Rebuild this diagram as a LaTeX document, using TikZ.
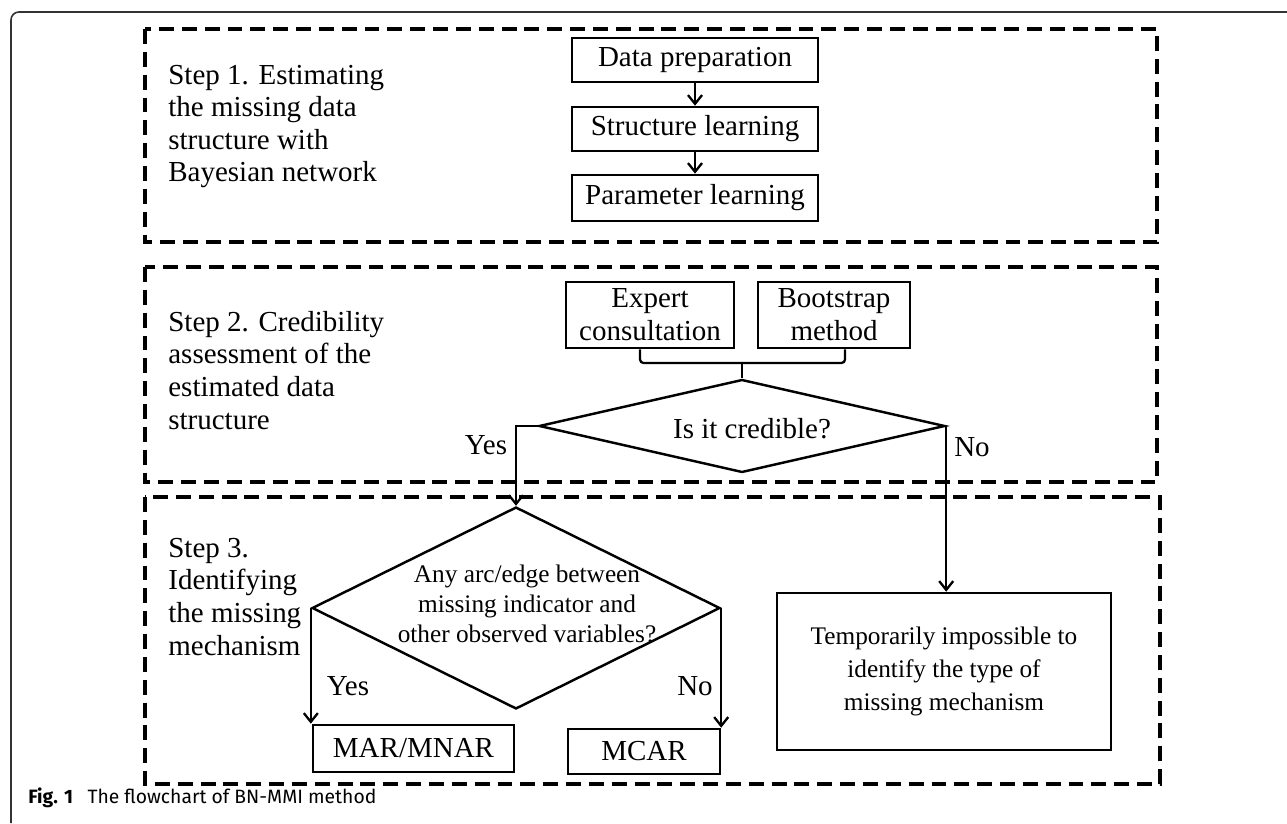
\documentclass[tikz,border=0pt]{standalone}
\usepackage{fontspec}
\setmainfont{Liberation Serif}
\newfontfamily\capfont{Fira Sans}
\usetikzlibrary{shapes.geometric,arrows.meta}

\tikzset{
  stepframe/.style={line width=1.9pt, dash pattern=on 8.5pt off 4.5pt},
  procbox/.style={draw, line width=1.5pt, inner sep=0pt, align=center, font=\fontsize{16.5pt}{18.7pt}\selectfont},
  decide/.style={draw, diamond, line width=1.4pt, inner sep=0pt},
  flow/.style={line width=1.3pt, -{Straight Barb[length=5pt,width=8pt]}},
  steptext/.style={anchor=base west, align=left, inner sep=0pt, font=\fontsize{16.5pt}{18.5pt}\selectfont},
  answer/.style={inner sep=0pt, font=\fontsize{16.5pt}{18.5pt}\selectfont},
}

\begin{document}
\begin{tikzpicture}[x=0.02cm,y=-0.02cm]
  \useasboundingbox (0,0) rectangle (1287,824);
  % outer figure frame
  \draw[line width=0.9pt, black!80, rounded corners=4.5pt] (1287,12) -| (11,823);

  % the three step frames
  \draw[stepframe] (145,29) rectangle (1157,242);
  \draw[stepframe] (145,267) rectangle (1157,482);
  \draw[stepframe] (145,497) rectangle (1160,784);

  % step titles (anchored at the baseline of the last line)
  \node[steptext] (step1) at (168,182) {Step 1. Estimating\\the missing data\\structure with\\Bayesian network};
  \node[steptext] (step2) at (168,429) {Step 2. Credibility\\assessment of the\\estimated data\\structure};
  \node[steptext] (step3) at (168,655) {Step 3.\\Identifying\\the missing\\mechanism};

  % step 1
  \node[procbox, minimum width=4.92cm, minimum height=0.88cm] (prep) at (695,60) {Data preparation};
  \node[procbox, minimum width=4.92cm, minimum height=0.88cm] (struct) at (695,129) {Structure learning};
  \node[procbox, minimum width=4.92cm, minimum height=0.92cm] (param) at (695,198) {Parameter learning};
  \draw[flow] (prep) -- (struct);
  \draw[flow] (struct) -- (param);

  % step 2
  \node[procbox, minimum width=3.36cm, minimum height=1.32cm] (expert) at (650,315) {Expert\\consultation};
  \node[procbox, minimum width=3.04cm, minimum height=1.32cm] (boot) at (834,315) {Bootstrap\\method};
  \node[decide, minimum width=8.12cm, minimum height=1.86cm] (cred) at (742,426) {};
  \node[inner sep=0pt, font=\fontsize{16.5pt}{18.5pt}\selectfont] (credtext) at (752,429) {Is it credible?};
  \coordinate (join) at (742,363);
  \draw[line width=1.3pt, rounded corners=2pt] ([xshift=-0.2cm]expert.south) |- (join) -| ([xshift=0.22cm]boot.south);
  \draw[line width=1.3pt] (join) -- (cred.north);

  % step 3
  \node[decide, minimum width=8.16cm, minimum height=4.04cm] (anyarc) at (516,608) {};
  \node[inner sep=0pt, align=center, font=\fontsize{14.4pt}{17pt}\selectfont] (anyarctext) at (527,604)
    {Any arc/edge between\\missing indicator and\\other observed variables?};
  \node[procbox, minimum width=4.02cm, minimum height=0.94cm] (mar) at (413.5,748.5) {MAR/MNAR};
  \node[procbox, minimum width=3.04cm, minimum height=0.9cm] (mcar) at (644,751.5) {MCAR};
  \node[procbox, minimum width=6.68cm, minimum height=3.14cm, font=\fontsize{14.4pt}{19pt}\selectfont] (tempo) at (944,671.5)
    {Temporarily impossible to\\identify the type of\\missing mechanism};

  % decisions
  \draw[flow] (cred.west) -| (anyarc.north);
  \node[answer] (yes1) at (486,445) {Yes};
  \draw[flow] (cred.east) -- (cred.east |- tempo.north);
  \node[answer] (no1) at (972,447) {No};
  \draw[flow] (anyarc.west) -- (anyarc.west |- mar.north);
  \node[answer] (yes2) at (348,686) {Yes};
  \draw[flow] (anyarc.east) -- (anyarc.east |- mcar.north);
  \node[answer] (no2) at (695,686) {No};

  % caption
  \node[anchor=base west, inner sep=0pt, font=\capfont\fontsize{11pt}{13pt}\selectfont] (caption) at (28,803)
    {\textbf{Fig. 1}\hspace{0.75em}The flowchart of BN-MMI method};
\end{tikzpicture}
\end{document}
